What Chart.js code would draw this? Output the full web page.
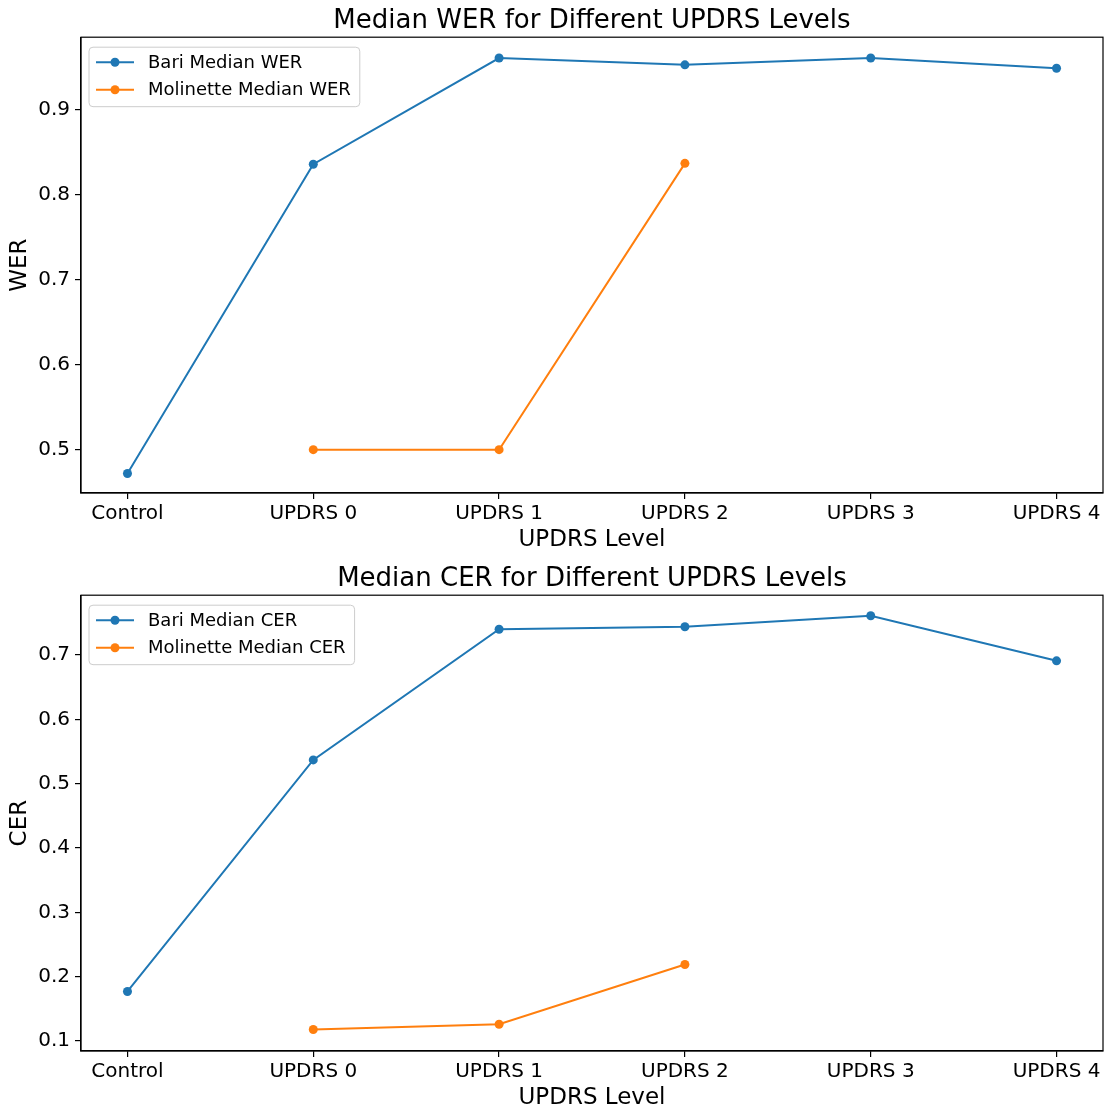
<!DOCTYPE html>
<html><head><meta charset="utf-8">
<script src="https://cdn.jsdelivr.net/npm/chart.js@4.4.1/dist/chart.umd.min.js"></script>
<style>
html,body{margin:0;padding:0;background:#fff;overflow:hidden;width:1112px;height:1111px;position:relative}
canvas{position:absolute;left:0}
#c1{top:0}#c2{top:558px}
</style></head>
<body>
<canvas id="c1" width="1112" height="556"></canvas>
<canvas id="c2" width="1112" height="556"></canvas>
<script>
const categories = ['Control', 'UPDRS 0', 'UPDRS 1', 'UPDRS 2', 'UPDRS 3', 'UPDRS 4'];
const bariWER = [0.472, 0.836, 0.961, 0.953, 0.961, 0.949];
const molinetteWER = [null, 0.500, 0.500, 0.837, null, null];
const bariCER = [0.177, 0.537, 0.740, 0.744, 0.761, 0.691];
const molinetteCER = [null, 0.118, 0.126, 0.219, null, null];
const werTicks = [0.5, 0.6, 0.7, 0.8, 0.9];
const cerTicks = [0.1, 0.2, 0.3, 0.4, 0.5, 0.6, 0.7];
const werRange = [0.449, 0.9855];
const cerRange = [0.0845, 0.793];
const xTicks = [0, 1, 2, 3, 4, 5];

const FONT = '"DejaVu Sans", sans-serif';
const BLUE = '#1f77b4', ORANGE = '#ff7f0e';

function toPoints(arr) {
  return arr.map((v, i) => v == null ? null : { x: i, y: v }).filter(p => p);
}

const framePlugin = {
  id: 'frame',
  afterDatasetsDraw(chart) {
    const a = chart.chartArea, ctx = chart.ctx;
    ctx.save();
    ctx.strokeStyle = '#000';
    ctx.lineWidth = 1.2;
    ctx.strokeRect(a.left, a.top, a.right - a.left, a.bottom - a.top);
    ctx.restore();
  }
};

const legendPlugin = {
  id: 'insideLegend',
  afterDatasetsDraw(chart) {
    const ctx = chart.ctx, a = chart.chartArea;
    const ds = chart.data.datasets;
    ctx.save();
    ctx.font = '18px ' + FONT;
    const textW = Math.max(...ds.map(d => ctx.measureText(d.label).width));
    const rowH = 27.5;
    const x0 = a.left + 8, y0 = a.top + 10;
    const w = 59 + textW + 9;
    const h = rowH * (ds.length - 1) + 32;
    ctx.beginPath();
    ctx.roundRect(x0, y0, w, h, 4);
    ctx.fillStyle = 'rgba(255,255,255,0.8)';
    ctx.fill();
    ctx.strokeStyle = '#cccccc';
    ctx.lineWidth = 1;
    ctx.stroke();
    ds.forEach((d, i) => {
      const cy = y0 + 15 + i * rowH;
      ctx.strokeStyle = d.borderColor;
      ctx.lineWidth = 2;
      ctx.beginPath();
      ctx.moveTo(x0 + 7, cy);
      ctx.lineTo(x0 + 45, cy);
      ctx.stroke();
      ctx.fillStyle = d.backgroundColor;
      ctx.beginPath();
      ctx.arc(x0 + 26, cy, 4.5, 0, Math.PI * 2);
      ctx.fill();
      ctx.fillStyle = '#000';
      ctx.textBaseline = 'middle';
      ctx.textAlign = 'left';
      ctx.fillText(d.label, x0 + 59, cy + 1);
    });
    ctx.restore();
  }
};

function makeChart(id, title, yLabel, labA, dataA, labB, dataB, yTicks, yRange) {
  const ds = (label, data, color) => ({
    label, data: toPoints(data),
    borderColor: color, backgroundColor: color,
    borderWidth: 2, pointRadius: 4.5, pointHoverRadius: 4.5,
    pointBorderWidth: 0, tension: 0, fill: false
  });
  return new Chart(document.getElementById(id), {
    type: 'line',
    data: { datasets: [ds(labA, dataA, BLUE), ds(labB, dataB, ORANGE)] },
    options: {
      responsive: false, animation: false, devicePixelRatio: 1,
      layout: { padding: { left: 0, right: 9, top: 0, bottom: 0 } },
      plugins: {
        legend: { display: false },
        tooltip: { enabled: false },
        title: {
          display: true, text: title, color: '#000', fullSize: false,
          font: { family: FONT, size: 26, weight: 'normal' },
          padding: { top: 6, bottom: 0 }
        }
      },
      scales: {
        x: {
          type: 'linear', min: -0.25, max: 5.25,
          afterBuildTicks: s => { s.ticks = xTicks.map(v => ({ value: v })); },
          afterFit: s => { s.height = 63; },
          ticks: {
            color: '#000', font: { family: FONT, size: 20 }, padding: 3,
            maxRotation: 0, autoSkip: false,
            callback: v => categories[v]
          },
          grid: { display: true, drawOnChartArea: false, drawTicks: true, tickLength: 6, color: '#000', lineWidth: 1.2 },
          border: { display: true, color: '#000', width: 1.2 },
          title: {
            display: true, text: 'UPDRS Level', color: '#000',
            font: { family: FONT, size: 23 }, padding: { top: 0, bottom: 2 }
          }
        },
        y: {
          type: 'linear', min: yRange[0], max: yRange[1],
          afterBuildTicks: s => { s.ticks = yTicks.map(v => ({ value: v })); },
          afterFit: s => { s.width = 81; },
          ticks: {
            color: '#000', font: { family: FONT, size: 20 }, padding: 5,
            callback: v => v.toFixed(1)
          },
          grid: { display: true, drawOnChartArea: false, drawTicks: true, tickLength: 6, color: '#000', lineWidth: 1.2 },
          border: { display: true, color: '#000', width: 1.2 },
          title: {
            display: true, text: yLabel, color: '#000',
            font: { family: FONT, size: 23 }, padding: { top: 6, bottom: 0 }
          }
        }
      }
    },
    plugins: [framePlugin, legendPlugin]
  });
}

makeChart('c1', 'Median WER for Different UPDRS Levels', 'WER',
  'Bari Median WER', bariWER, 'Molinette Median WER', molinetteWER, werTicks, werRange);
makeChart('c2', 'Median CER for Different UPDRS Levels', 'CER',
  'Bari Median CER', bariCER, 'Molinette Median CER', molinetteCER, cerTicks, cerRange);
</script>
</body></html>
